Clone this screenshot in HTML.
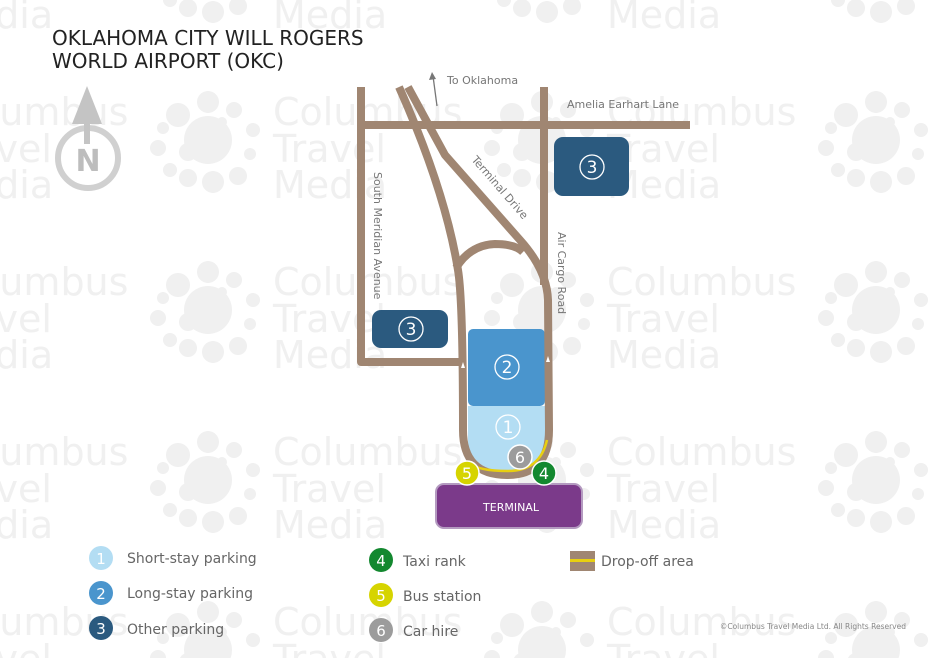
<!DOCTYPE html>
<html><head><meta charset="utf-8"><style>
html,body{margin:0;background:#fff;overflow:hidden;width:930px;height:658px}
svg{display:block}
text{font-family:"DejaVu Sans","Liberation Sans",sans-serif}
</style></head><body>
<svg width="930" height="658" viewBox="0 0 930 658" xmlns="http://www.w3.org/2000/svg">
<defs>
<g id="wm">
 <g fill="#f0f0f0">
  <circle cx="0" cy="0" r="24"/>
  <circle cx="-30" cy="-25" r="12"/><circle cx="0" cy="-38" r="11"/><circle cx="26" cy="-30" r="8"/>
  <circle cx="-45" cy="-12" r="6"/><circle cx="-50" cy="8" r="8"/><circle cx="-38" cy="30" r="7"/>
  <circle cx="-20" cy="38" r="9"/><circle cx="5" cy="42" r="11"/><circle cx="30" cy="36" r="9"/>
  <circle cx="42" cy="14" r="6"/><circle cx="45" cy="-10" r="7"/><circle cx="-20" cy="12" r="9"/>
  <circle cx="-12" cy="-12" r="4"/><circle cx="14" cy="-18" r="5"/>
 </g>
 <text x="65" y="-15" font-size="38" fill="#f0f0f0">Columbus</text>
 <text x="65" y="22" font-size="38" fill="#f0f0f0">Travel</text>
 <text x="65" y="58" font-size="38" fill="#f0f0f0">Media</text>
</g>
</defs>
<g>
 <use href="#wm" x="-126" y="-30"/><use href="#wm" x="208" y="-30"/><use href="#wm" x="542" y="-30"/><use href="#wm" x="876" y="-30"/>
 <use href="#wm" x="-126" y="140"/><use href="#wm" x="208" y="140"/><use href="#wm" x="542" y="140"/><use href="#wm" x="876" y="140"/>
 <use href="#wm" x="-126" y="310"/><use href="#wm" x="208" y="310"/><use href="#wm" x="542" y="310"/><use href="#wm" x="876" y="310"/>
 <use href="#wm" x="-126" y="480"/><use href="#wm" x="208" y="480"/><use href="#wm" x="542" y="480"/><use href="#wm" x="876" y="480"/>
 <use href="#wm" x="-126" y="650"/><use href="#wm" x="208" y="650"/><use href="#wm" x="542" y="650"/><use href="#wm" x="876" y="650"/>
</g>
<!-- compass -->
<g>
 <circle cx="88" cy="158" r="30" fill="none" stroke="#d0d0d0" stroke-width="6"/>
 <polygon points="87,86 72,124 102,124" fill="#c4c4c4"/>
 <rect x="84" y="118" width="6" height="26" fill="#c4c4c4"/>
 <text x="88" y="171" font-size="30" font-weight="bold" fill="#bdbdbd" text-anchor="middle">N</text>
</g>
<text x="52" y="45" font-size="20" fill="#222">OKLAHOMA CITY WILL ROGERS</text>
<text x="52" y="68" font-size="20" fill="#222">WORLD AIRPORT (OKC)</text>

<!-- parking -->
<rect x="554" y="137" width="75" height="59" rx="9" fill="#2b5a7f"/>
<rect x="372" y="310" width="76" height="38" rx="9" fill="#2b5a7f"/>
<path d="M468 406 H545 V440 Q545 470 510 472 Q468 470 468 440 Z" fill="#b3ddf3"/>
<rect x="468" y="329" width="77" height="77" rx="5" fill="#4a95cd"/>

<!-- roads -->
<g fill="none" stroke="#a08672" stroke-width="8" stroke-linejoin="round">
 <path d="M357 125 H690"/>
 <path d="M361 87 V362 H462"/>
 <path d="M544 87 V285"/>
 <path d="M399 87 Q445 190 458 270 Q463 300 463 430 Q463 475 507 475 Q549 475 549 430 L548 300 Q547 270 520 240 L445 155 L408 87"/>
 <path d="M456 268 Q470 245 495 244 Q515 244 523 252"/>
</g>
<path d="M470 463 Q478 471 508 471 Q540 471 547 440" fill="none" stroke="#e8cf10" stroke-width="2.5"/>
<g fill="#fff"><polygon points="463,362 461,368 465,368"/><polygon points="548,356 546,362 550,362"/></g>

<!-- labels -->
<text x="447" y="84" font-size="11" fill="#777">To Oklahoma</text>
<path d="M437 106 L433 76" stroke="#777" stroke-width="1.3"/><polygon points="432,72 429,80 436,79" fill="#777"/>
<text x="567" y="108" font-size="11" fill="#777">Amelia Earhart Lane</text>
<text transform="translate(471,160) rotate(49)" font-size="11" fill="#777">Terminal Drive</text>
<text transform="translate(374,172) rotate(90)" font-size="11" fill="#777">South Meridian Avenue</text>
<text transform="translate(558,232) rotate(90)" font-size="11" fill="#777">Air Cargo Road</text>

<!-- numbers -->
<g fill="none" stroke="#fff" stroke-width="1.3">
 <circle cx="592" cy="167" r="12"/><circle cx="411" cy="329" r="12"/><circle cx="507" cy="367" r="12"/><circle cx="508" cy="427" r="12"/>
</g>
<g font-size="17" fill="#fff" text-anchor="middle">
 <text x="592" y="173">3</text><text x="411" y="335">3</text><text x="507" y="373">2</text><text x="508" y="433">1</text>
</g>
<rect x="436" y="484" width="146" height="44" rx="8" fill="#7b3a8a" stroke="#b49ac0" stroke-width="2"/>
<text x="511" y="511" font-size="11" fill="#fff" text-anchor="middle">TERMINAL</text>
<circle cx="520" cy="457" r="12" fill="#9c9c9c" stroke="#fff" stroke-width="1.5"/><text x="520" y="463" font-size="16" fill="#fff" text-anchor="middle">6</text>
<circle cx="467" cy="473" r="12" fill="#d6d400" stroke="#fff" stroke-width="1.5"/><text x="467" y="479" font-size="16" fill="#fff" text-anchor="middle">5</text>
<circle cx="544" cy="473" r="12" fill="#13882f" stroke="#fff" stroke-width="1.5"/><text x="544" y="479" font-size="16" fill="#fff" text-anchor="middle">4</text>

<!-- legend -->
<g font-size="15" text-anchor="middle" fill="#fff">
 <circle cx="101" cy="558" r="12" fill="#b3ddf3"/><text x="101" y="564">1</text>
 <circle cx="101" cy="593" r="12" fill="#4a95cd"/><text x="101" y="599">2</text>
 <circle cx="101" cy="628" r="12" fill="#2b5a7f"/><text x="101" y="634">3</text>
 <circle cx="381" cy="560" r="12" fill="#13882f"/><text x="381" y="566">4</text>
 <circle cx="381" cy="595" r="12" fill="#d6d400"/><text x="381" y="601">5</text>
 <circle cx="381" cy="630" r="12" fill="#9c9c9c"/><text x="381" y="636">6</text>
</g>
<g font-size="14" fill="#666">
 <text x="127" y="563">Short-stay parking</text>
 <text x="127" y="598">Long-stay parking</text>
 <text x="127" y="634">Other parking</text>
 <text x="403" y="566">Taxi rank</text>
 <text x="403" y="601">Bus station</text>
 <text x="403" y="636">Car hire</text>
 <text x="601" y="566">Drop-off area</text>
</g>
<rect x="570" y="551" width="25" height="20" fill="#a08672"/>
<rect x="570" y="559" width="25" height="3" fill="#e8cf10"/>
<text x="906" y="629" font-size="7.5" fill="#888" text-anchor="end">©Columbus Travel Media Ltd. All Rights Reserved</text>
</svg>
</body></html>
